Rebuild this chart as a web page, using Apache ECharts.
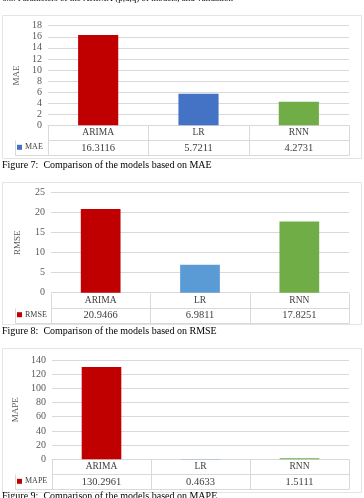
<!DOCTYPE html>
<html><head><meta charset="utf-8">
<script src="https://cdn.jsdelivr.net/npm/echarts@6/dist/echarts.min.js"></script>
<style>html,body{margin:0;padding:0;background:#fff;}#c{width:364px;height:498px;}</style>
</head><body><div id="c"></div>
<script>
const models = ['ARIMA', 'LR', 'RNN'];
const maeValues = [16.3116, 5.7211, 4.2731];
const rmseValues = [20.9466, 6.9811, 17.8251];
const mapeValues = [130.2961, 0.4633, 1.5111];
const maeTicks = {min: 0, max: 18, interval: 2};
const rmseTicks = {min: 0, max: 25, interval: 5};
const mapeTicks = {min: 0, max: 140, interval: 20};
const captions = ['Figure 7:  Comparison of the models based on MAE',
                  'Figure 8:  Comparison of the models based on RMSE',
                  'Figure 9:  Comparison of the models based on MAPE'];
const metricNames = ['MAE', 'RMSE', 'MAPE'];

const SERIF = '"Liberation Serif", "DejaVu Serif", serif';
const RED = '#C00000', GREEN = '#70AD47';
const barColors = [[RED, '#4472C4', GREEN], [RED, '#5B9BD5', GREEN], [RED, '#5B9BD5', GREEN]];
const legendColors = ['#4472C4', RED, RED];
const layouts = [
  {left: 48, top: 25.7, h: 99.6, frame: [2, 15, 359, 143], cap: 160},
  {left: 51, top: 192.7, h: 100, frame: [2, 182, 359, 142], cap: 326},
  {left: 52, top: 360, h: 99.3, frame: [2, 348, 359, 144], cap: 491}
];
const RIGHT = 349, ROW = 15, GRID = '#d9d9d9';
const valuesAll = [maeValues, rmseValues, mapeValues];
const ticksAll = [maeTicks, rmseTicks, mapeTicks];

const grids = [], xAxes = [], yAxes = [], series = [], legends = [], graphics = [];
graphics.push({type: 'text', left: 2, top: -6, style: {text: '6.3. Parameters of the ARIMA (p,d,q) of models, and validation', font: '9px ' + SERIF, fill: '#000'}});
layouts.forEach((L, i) => {
  const vals = valuesAll[i];
  grids.push({left: L.left, right: 364 - RIGHT, top: L.top, height: L.h, containLabel: false});
  xAxes.push({type: 'category', gridIndex: i, data: models,
    axisLine: {show: true, lineStyle: {color: GRID}}, axisTick: {show: false},
    axisLabel: {margin: 0, interval: 0, formatter: (v, idx) => '{a|' + v + '}\n{b|' + vals[idx].toFixed(4) + '}',
      rich: {a: {fontFamily: SERIF, fontSize: 9.5, color: '#404040', height: ROW, lineHeight: ROW, align: 'center'},
             b: {fontFamily: SERIF, fontSize: 10.5, color: '#404040', height: ROW, lineHeight: ROW, align: 'center'}}}
  });
  const t = ticksAll[i];
  yAxes.push({type: 'value', gridIndex: i, min: t.min, max: t.max, interval: t.interval,
    name: metricNames[i], nameLocation: 'middle', nameGap: L.left - 22, nameRotate: 90,
    nameTextStyle: {fontFamily: SERIF, fontSize: 9, color: '#595959'},
    axisLine: {show: false}, axisTick: {show: false},
    axisLabel: {fontFamily: SERIF, fontSize: 10, color: '#595959', margin: 6},
    splitLine: {lineStyle: {color: GRID, width: 1}}
  });
  series.push({type: 'bar', name: metricNames[i], xAxisIndex: i, yAxisIndex: i, barWidth: '40%',
    itemStyle: {color: legendColors[i]},
    data: vals.map((v, k) => ({value: v, itemStyle: {color: barColors[i][k]}}))
  });
  const axisY = L.top + L.h;
  legends.push({data: [metricNames[i]], left: 17, top: axisY + ROW + 3, itemWidth: 5, itemHeight: 5, itemGap: 2,
    icon: 'rect', textStyle: {fontFamily: SERIF, fontSize: 8, color: '#404040', padding: [0, 0, 0, -2]}, padding: 0});
  graphics.push({type: 'rect', shape: {x: L.frame[0] + 0.5, y: L.frame[1] + 0.5, width: L.frame[2], height: L.frame[3]},
    style: {fill: null, stroke: '#e4e4e4', lineWidth: 1}, silent: true});
  const cw = (RIGHT - L.left) / models.length;
  const lines = [
    [L.left, axisY + ROW, RIGHT, axisY + ROW],
    [15, axisY + 2 * ROW, RIGHT, axisY + 2 * ROW],
    [15, axisY + ROW, 15, axisY + 2 * ROW]
  ];
  for (let k = 0; k <= models.length; k++) {
    const x = L.left + k * cw;
    lines.push([x, axisY, x, axisY + 2 * ROW]);
  }
  lines.forEach(l => graphics.push({type: 'line', shape: {x1: Math.round(l[0]) + 0.5, y1: Math.round(l[1]) + 0.5, x2: Math.round(l[2]) + 0.5, y2: Math.round(l[3]) + 0.5},
    style: {stroke: GRID, lineWidth: 1}, silent: true}));
  graphics.push({type: 'text', left: 2, top: L.cap, style: {text: captions[i], font: '10px ' + SERIF, fill: '#000'}});
});

const chart = echarts.init(document.getElementById('c'), null, {renderer: 'canvas'});
chart.setOption({
  animation: false, backgroundColor: '#fff',
  grid: grids, xAxis: xAxes, yAxis: yAxes, series: series, legend: legends, graphic: graphics
});
</script></body></html>
